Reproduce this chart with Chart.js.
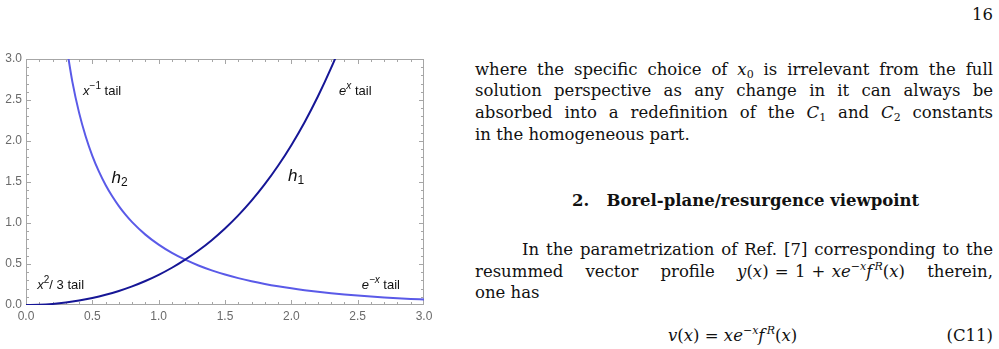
<!DOCTYPE html>
<html>
<head>
<meta charset="utf-8">
<script src="https://cdn.jsdelivr.net/npm/chart.js@4/dist/chart.umd.min.js"></script>
<style>
  html, body { margin:0; padding:0; background:#fff; width:999px; height:349px; overflow:hidden; }
  #wrap { position:absolute; left:0; top:0; width:440px; height:330px; }
  .tx { position:absolute; font-family:"DejaVu Serif",serif; font-size:16.5px; color:#111; white-space:nowrap; line-height:1; }
  .j { text-align:justify; text-align-last:justify; white-space:normal; }
  .m { display:inline-block; white-space:nowrap; word-spacing:1px; }
  i { font-style:italic; }
  sub { font-size:11px; vertical-align:-3px; line-height:0; }
  sup { font-size:11px; vertical-align:7px; line-height:0; }
</style>
</head>
<body>
<div id="wrap"><canvas id="c" width="440" height="330"></canvas></div>

<div class="tx" style="right:6px; top:7px;">16</div>
<div class="tx j" style="left:475px; width:518px; top:62px;">where the specific choice of <i>x</i><sub>0</sub> is irrelevant from the full</div>
<div class="tx j" style="left:475px; width:518px; top:83px;">solution perspective as any change in it can always be</div>
<div class="tx j" style="left:475px; width:518px; top:105px;">absorbed into a redefinition of the <i>C</i><sub>1</sub> and <i>C</i><sub>2</sub> constants</div>
<div class="tx" style="left:475px; top:127px;">in the homogeneous part.</div>
<div class="tx" style="left:572px; top:193px; font-weight:bold;">2.&nbsp;&nbsp;&nbsp;Borel-plane/resurgence viewpoint</div>
<div class="tx j" style="left:522px; width:471px; top:242px;">In the parametrization of Ref. [7] corresponding to the</div>
<div class="tx j" style="left:475px; width:518px; top:264px;">resummed vector profile <span class="m"><i>y</i>(<i>x</i>) = 1 + <i>xe</i><sup>−<i>x</i></sup><i>f</i><sup>&thinsp;<i>R</i></sup>(<i>x</i>)</span> therein,</div>
<div class="tx" style="left:475px; top:285px;">one has</div>
<div class="tx" style="left:668px; top:328px;"><i>v</i>(<i>x</i>) = <i>xe</i><sup>−<i>x</i></sup><i>f</i><sup>&thinsp;<i>R</i></sup>(<i>x</i>)</div>
<div class="tx" style="right:6px; top:328px;">(C11)</div>

<script>
// ---- data ----
const h1X = [0,0.1,0.2,0.3,0.4,0.5,0.6,0.7,0.8,0.9,1.0,1.1,1.2,1.3,1.4,1.5,1.6,1.7,1.8,1.9,2.0,2.1,2.2,2.3,2.4,2.5];
const h1Y = [0,0.0033,0.0134,0.0303,0.0542,0.0854,0.1244,0.1715,0.2273,0.2925,0.3679,0.4543,0.5528,0.6645,0.7907,0.9329,1.0927,1.2721,1.4729,1.6976,1.9488,2.2291,2.5420,2.8907,3.2794,3.7122];
const h2X = [0.3,0.35,0.4,0.45,0.5,0.55,0.6,0.65,0.7,0.75,0.8,0.9,1.0,1.1,1.2,1.3,1.4,1.5,1.6,1.7,1.8,1.9,2.0,2.1,2.2,2.3,2.4,2.5,2.6,2.7,2.8,2.9,3.0];
const h2Y = [3.2102,2.7181,2.3461,2.0546,1.8196,1.6260,1.4635,1.3252,1.2060,1.1022,1.0110,0.8583,0.7358,0.6355,0.5522,0.4822,0.4227,0.3719,0.3281,0.2901,0.2571,0.2283,0.2030,0.1808,0.1612,0.1439,0.1285,0.1149,0.1028,0.0921,0.0825,0.0740,0.0664];
const xTickLabels = ['0.0','0.5','1.0','1.5','2.0','2.5','3.0'];
const yTickLabels = ['0.0','0.5','1.0','1.5','2.0','2.5','3.0'];

const frameColor = '#a6a6a6';
const labelFont = '"Liberation Sans", Arial, sans-serif';

const framePlugin = {
  id: 'frame',
  beforeDatasetsDraw(chart) {
    const {ctx, chartArea: a, scales: {x, y}} = chart;
    ctx.save();
    ctx.strokeStyle = frameColor;
    ctx.lineWidth = 1;
    ctx.strokeRect(a.left + 0.5, a.top + 0.5, a.right - a.left - 1, a.bottom - a.top - 1);
    ctx.beginPath();
    for (let k = 1; k < 30; k++) {
      const v = k / 10;
      const major = k % 5 === 0;
      const L = major ? 5 : 3;
      const px = Math.round(x.getPixelForValue(v)) + 0.5;
      ctx.moveTo(px, a.bottom); ctx.lineTo(px, a.bottom - L);
      ctx.moveTo(px, a.top); ctx.lineTo(px, a.top + L);
      const py = Math.round(y.getPixelForValue(v)) + 0.5;
      ctx.moveTo(a.left, py); ctx.lineTo(a.left + L, py);
      ctx.moveTo(a.right, py); ctx.lineTo(a.right - L, py);
    }
    ctx.stroke();
    ctx.restore();
  }
};

// segments: [text, size, italic, raise]
function drawRich(ctx, x0, yBase, segs) {
  let cx = x0;
  for (const s of segs) {
    ctx.font = (s[2] ? 'italic ' : '') + s[1] + 'px ' + labelFont;
    ctx.fillText(s[0], cx, yBase - s[3]);
    cx += ctx.measureText(s[0]).width;
  }
}

const notesPlugin = {
  id: 'notes',
  afterDatasetsDraw(chart) {
    const {ctx, scales: {x, y}} = chart;
    ctx.save();
    ctx.fillStyle = '#111';
    ctx.textBaseline = 'alphabetic';
    ctx.textAlign = 'left';
    const P = (vx, vy) => [x.getPixelForValue(vx), y.getPixelForValue(vy)];
    let p;
    p = P(0.43, 2.56); drawRich(ctx, p[0], p[1], [['x',13,true,0],['\u22121',10,false,6],[' tail',13,false,0]]);
    p = P(2.36, 2.56); drawRich(ctx, p[0], p[1], [['e',13,true,0],['x',10,true,6],[' tail',13,false,0]]);
    p = P(0.645, 1.49); drawRich(ctx, p[0], p[1], [['h',17,true,0],['2',12,false,-3]]);
    p = P(1.975, 1.51); drawRich(ctx, p[0], p[1], [['h',17,true,0],['1',12,false,-3]]);
    p = P(0.085, 0.20); drawRich(ctx, p[0], p[1], [['x',13,true,0],['2',10,false,6],['/ 3 tail',13,false,0]]);
    p = P(2.53, 0.20); drawRich(ctx, p[0], p[1], [['e',13,true,0],['\u2212x',10,true,6],[' tail',13,false,0]]);
    ctx.restore();
  }
};

new Chart(document.getElementById('c'), {
  type: 'line',
  data: {
    datasets: [
      { label: 'h1', data: h1X.map((v, i) => ({x: v, y: h1Y[i]})), borderColor: 'rgb(22,22,150)', borderWidth: 2, pointRadius: 0, cubicInterpolationMode: 'monotone', fill: false },
      { label: 'h2', data: h2X.map((v, i) => ({x: v, y: h2Y[i]})), borderColor: 'rgb(90,90,232)', borderWidth: 2, pointRadius: 0, cubicInterpolationMode: 'monotone', fill: false }
    ]
  },
  options: {
    responsive: false,
    animation: false,
    events: [],
    layout: { padding: { top: 59, right: 16, left: 0, bottom: 0 } },
    plugins: { legend: { display: false }, tooltip: { enabled: false } },
    scales: {
      x: {
        type: 'linear', min: 0, max: 3,
        afterFit(s) { s.height = 25; },
        grid: { display: false, drawTicks: false },
        border: { display: false },
        ticks: { stepSize: 0.5, padding: 4, color: '#6a6a6a', font: { family: labelFont, size: 12 }, maxRotation: 0,
                 callback: (v, i) => xTickLabels[i] }
      },
      y: {
        type: 'linear', min: 0, max: 3,
        afterFit(s) { s.width = 26; },
        grid: { display: false, drawTicks: false },
        border: { display: false },
        ticks: { stepSize: 0.5, padding: 4, color: '#6a6a6a', font: { family: labelFont, size: 12 },
                 callback: (v, i) => yTickLabels[i] }
      }
    }
  },
  plugins: [framePlugin, notesPlugin]
});
</script>
</body>
</html>
